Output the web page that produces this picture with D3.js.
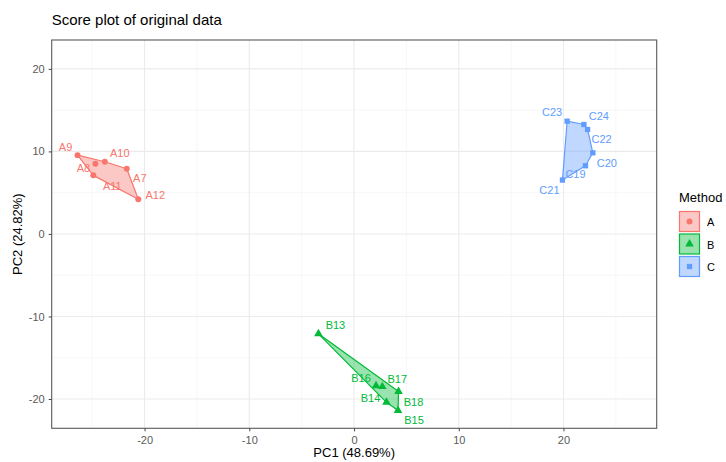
<!DOCTYPE html>
<html>
<head>
<meta charset="utf-8">
<script src="https://cdn.jsdelivr.net/npm/d3@7"></script>
<style>
  body { margin: 0; background: #fff; }
  text { font-family: "Liberation Sans", Arial, Helvetica, sans-serif; }
</style>
</head>
<body>
<svg id="chart" width="726" height="462"></svg>
<script>
// sample names, groups and PCA scores
var samples = ["A7","A8","A9","A10","A11","A12",
               "B13","B14","B15","B16","B17","B18",
               "C19","C20","C21","C22","C23","C24"];
var groups  = ["A","A","A","A","A","A",
               "B","B","B","B","B","B",
               "C","C","C","C","C","C"];
var pc1 = [-21.7,-24.7,-26.4,-23.8,-24.9,-20.6,
           -3.4, 3.1, 4.2, 2.1, 2.7, 4.25,
           22.1, 22.8, 19.9, 22.3, 20.35, 21.95];
var pc2 = [7.9, 8.5, 9.55, 8.75, 7.1, 4.2,
           -12.1,-20.4,-21.4,-18.4,-18.5,-19.1,
           8.26, 9.83, 6.53, 12.66, 13.66, 13.26];
var methods = ["A","B","C"];
var xTicks = [-20,-10,0,10,20];
var yTicks = [-20,-10,0,10,20];

// label nudges in pixels (repel-like placement)
var nudge = {
  A7:[13,9], A8:[-12,4], A9:[-12,-8], A10:[15,-9], A11:[19,11], A12:[17,-4],
  B13:[17,-9], B14:[-16,-4], B15:[16,9], B16:[-15,-8], B17:[15,-8], B18:[15,10],
  C19:[-10,8], C20:[14,10], C21:[-13,10], C22:[14,10], C23:[-15,-9], C24:[15,-9]
};

var colors = d3.scaleOrdinal().domain(methods).range(["#F8766D","#00BA38","#619CFF"]);
var shapes = d3.scaleOrdinal().domain(methods).range([d3.symbolCircle, d3.symbolTriangle, d3.symbolSquare]);

var svg = d3.select("#chart");
var L = 51.7, R = 656.7, T = 40, B = 428.3;

var x = d3.scaleLinear().domain([-28.87, 28.9]).range([L, R]);
var y = d3.scaleLinear().domain([-23.55, 23.5]).range([B, T]);

var data = samples.map(function(s, i) {
  return {name: s, group: groups[i], x: pc1[i], y: pc2[i]};
});

// grid
var g = svg.append("g");
var minorX = [-25,-15,-5,5,15,25], minorY = [-15,-5,5,15];
g.selectAll(".mx").data(minorX).enter().append("line")
  .attr("x1", d => x(d)).attr("x2", d => x(d)).attr("y1", T).attr("y2", B)
  .attr("stroke", "#f2f2f2").attr("stroke-width", 0.6);
g.selectAll(".my").data(minorY).enter().append("line")
  .attr("y1", d => y(d)).attr("y2", d => y(d)).attr("x1", L).attr("x2", R)
  .attr("stroke", "#f2f2f2").attr("stroke-width", 0.6);
g.selectAll(".gx").data(xTicks).enter().append("line")
  .attr("x1", d => x(d)).attr("x2", d => x(d)).attr("y1", T).attr("y2", B)
  .attr("stroke", "#ebebeb").attr("stroke-width", 1.1);
g.selectAll(".gy").data(yTicks).enter().append("line")
  .attr("y1", d => y(d)).attr("y2", d => y(d)).attr("x1", L).attr("x2", R)
  .attr("stroke", "#ebebeb").attr("stroke-width", 1.1);

// hulls
methods.forEach(function(m) {
  var pts = data.filter(d => d.group === m).map(d => [x(d.x), y(d.y)]);
  var hull = d3.polygonHull(pts);
  svg.append("path")
    .attr("d", "M" + hull.join("L") + "Z")
    .attr("fill", colors(m)).attr("fill-opacity", 0.4)
    .attr("stroke", colors(m)).attr("stroke-width", 1.2)
    .attr("stroke-linejoin", "round");
});

// points
svg.selectAll(".pt").data(data).enter().append("path")
  .attr("transform", d => "translate(" + x(d.x) + "," + y(d.y) + ")")
  .attr("d", d => d3.symbol().type(shapes(d.group)).size(d.group === "B" ? 32 : 28)())
  .attr("fill", d => colors(d.group));

// labels
svg.selectAll(".lab").data(data).enter().append("text")
  .attr("x", d => x(d.x) + nudge[d.name][0])
  .attr("y", d => y(d.y) + nudge[d.name][1])
  .attr("text-anchor", "middle").attr("dominant-baseline", "central")
  .attr("font-size", 11).attr("fill", d => colors(d.group))
  .text(d => d.name);

// panel border
svg.append("rect").attr("x", L).attr("y", T).attr("width", R - L).attr("height", B - T)
  .attr("fill", "none").attr("stroke", "#595959").attr("stroke-width", 1.1);

// axes
var fmt = d => String(d);
var xAxis = svg.append("g").attr("transform", "translate(0," + B + ")")
  .call(d3.axisBottom(x).tickValues(xTicks).tickFormat(fmt).tickSize(3).tickPadding(5));
var yAxis = svg.append("g").attr("transform", "translate(" + L + ",0)")
  .call(d3.axisLeft(y).tickValues(yTicks).tickFormat(fmt).tickSize(3).tickPadding(4));
[xAxis, yAxis].forEach(function(a) {
  a.select(".domain").remove();
  a.selectAll("line").attr("stroke", "#444");
  a.selectAll("text").attr("fill", "#5a5a5a").attr("font-size", 11)
    .style("font-family", "'Liberation Sans', Arial, sans-serif");
});

// titles
svg.append("text").attr("x", L).attr("y", 25).attr("font-size", 15).attr("fill", "#000")
  .text("Score plot of original data");
svg.append("text").attr("x", (L + R) / 2).attr("y", 457).attr("text-anchor", "middle")
  .attr("font-size", 13).text("PC1 (48.69%)");
svg.append("text").attr("transform", "translate(22," + (T + B) / 2 + ") rotate(-90)")
  .attr("text-anchor", "middle").attr("font-size", 13).text("PC2 (24.82%)");

// legend
var lg = svg.append("g").attr("transform", "translate(679,0)");
lg.append("text").attr("x", 0).attr("y", 202).attr("font-size", 13).text("Method");
var keys = lg.selectAll(".key").data(methods).enter().append("g")
  .attr("transform", (d, i) => "translate(0," + (211 + i * 22.5) + ")");
keys.append("rect").attr("x", 0.5).attr("y", 0.5).attr("width", 20).attr("height", 20)
  .attr("fill", d => colors(d)).attr("fill-opacity", 0.4)
  .attr("stroke", d => colors(d)).attr("stroke-width", 1.2);
keys.append("path").attr("transform", "translate(10.5,10.5)")
  .attr("d", d => d3.symbol().type(shapes(d)).size(d === "B" ? 32 : 28)())
  .attr("fill", d => colors(d));
keys.append("text").attr("x", 28).attr("y", 11).attr("dominant-baseline", "central")
  .attr("font-size", 11).text(d => d);
</script>
</body>
</html>
